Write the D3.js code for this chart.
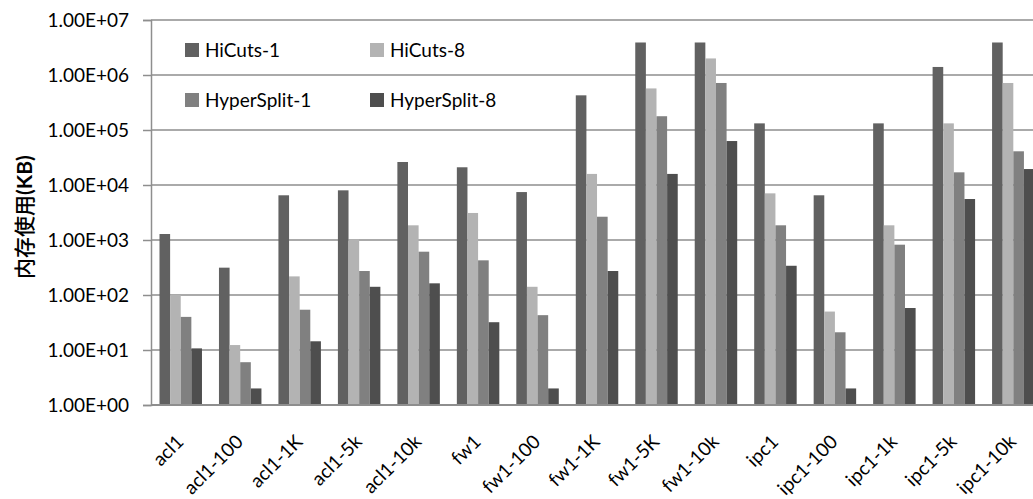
<!DOCTYPE html>
<html>
<head>
<meta charset="utf-8">
<script src="https://cdn.jsdelivr.net/npm/d3@7"></script>
<style>
  html, body { margin: 0; padding: 0; background: #fff; }
  svg { display: block; }
  text { font-family: Lato, "Open Sans", sans-serif; fill: #000; }
</style>
</head>
<body>
<svg id="chart" width="1033" height="499"></svg>
<script>
const categories = ["acl1","acl1-100","acl1-1K","acl1-5k","acl1-10k","fw1","fw1-100","fw1-1K","fw1-5K","fw1-10k","ipc1","ipc1-100","ipc1-1k","ipc1-5k","ipc1-10k"];
const seriesNames = ["HiCuts-1","HiCuts-8","HyperSplit-1","HyperSplit-8"];
const hicuts1 = [1285, 314, 6500, 8000, 26200, 21000, 7440, 427000, 3900000, 3900000, 132000, 6500, 132000, 1400000, 3900000];
const hicuts8 = [100, 12.3, 218, 1030, 1850, 3100, 141, 15900, 570000, 2000000, 7050, 50, 1850, 132000, 716000];
const hyper1 = [40, 6, 54, 273, 613, 427, 43, 2650, 178000, 716000, 1850, 21, 822, 17000, 41000];
const hyper8 = [10.7, 2, 14.4, 141, 163, 32, 2, 273, 15900, 63000, 340, 2, 58, 5560, 19500];
const tickValues = [1, 10, 100, 1000, 10000, 100000, 1000000, 10000000];
const tickLabels = ["1.00E+00","1.00E+01","1.00E+02","1.00E+03","1.00E+04","1.00E+05","1.00E+06","1.00E+07"];
const colors = ["#616161", "#b3b3b3", "#808080", "#4e4e4e"];

const seriesValues = [hicuts1, hicuts8, hyper1, hyper8];

const svg = d3.select("#chart");
const plotLeft = 151, plotTop = 20, plotBottom = 405;
const step = 59.47;
const plotRight = plotLeft + step * categories.length;

const x = d3.scaleBand().domain(categories).range([plotLeft, plotRight]).paddingInner(1.6/5.6).paddingOuter(0.8/5.6);
const xs = d3.scaleBand().domain(seriesNames).range([0, x.bandwidth()]);
const y = d3.scaleLog().domain([1, 1e7]).range([plotBottom, plotTop]);

// gridlines
svg.append("g").selectAll("line").data(tickValues.slice(1)).join("line")
  .attr("x1", plotLeft).attr("x2", 1033)
  .attr("y1", d => y(d)).attr("y2", d => y(d))
  .attr("stroke", "#8e8e8e").attr("stroke-width", 1.5);

// y axis
const yAxis = d3.axisLeft(y).tickValues(tickValues)
  .tickFormat((d, i) => tickLabels[i]).tickSize(8).tickPadding(14);
const yg = svg.append("g").attr("transform", `translate(${plotLeft},0)`).call(yAxis);
yg.select(".domain").attr("stroke", "#8e8e8e").attr("stroke-width", 1.5);
yg.selectAll(".tick line").attr("stroke", "#8e8e8e").attr("stroke-width", 1.5);
yg.selectAll(".tick text").attr("font-family", "Lato, sans-serif").attr("font-size", 19).attr("fill", "#000");

// bars
const groups = svg.append("g").selectAll("g").data(categories).join("g")
  .attr("transform", d => `translate(${x(d)},0)`);
groups.selectAll("rect").data((c, ci) => seriesNames.map((s, si) => ({s, si, v: seriesValues[si][ci]})))
  .join("rect")
  .attr("x", d => xs(d.s))
  .attr("width", xs.bandwidth())
  .attr("y", d => y(d.v))
  .attr("height", d => y(1) - y(d.v))
  .attr("fill", d => colors[d.si]);

// x axis line
svg.append("line").attr("x1", plotLeft).attr("x2", 1033).attr("y1", plotBottom).attr("y2", plotBottom)
  .attr("stroke", "#8e8e8e").attr("stroke-width", 2);

// x labels (rotated)
svg.append("g").selectAll("text").data(categories).join("text")
  .attr("text-anchor", "end")
  .attr("font-size", 19)
  .attr("transform", d => `translate(${x(d) + x.bandwidth() / 2 + 4},${plotBottom + 38}) rotate(-45)`)
  .text(d => d);

// legend
const legendPos = [[185, 43], [370, 43], [185, 93], [370, 93]];
const lg = svg.append("g").selectAll("g").data(seriesNames).join("g")
  .attr("transform", (d, i) => `translate(${legendPos[i][0]},${legendPos[i][1]})`);
lg.append("rect").attr("width", 14).attr("height", 14).attr("fill", (d, i) => colors[i]);
lg.append("text").attr("x", 20).attr("y", 14).attr("font-size", 19).text(d => d);

// y title
const yt = svg.append("text")
  .attr("transform", "translate(32,217) rotate(-90)")
  .attr("text-anchor", "middle")
  .attr("font-size", 21);
yt.append("tspan").attr("font-family", "'Noto Sans CJK SC', sans-serif").attr("font-weight", 500).text("内存使用");
yt.append("tspan").attr("font-family", "Lato, sans-serif").attr("font-weight", "bold").text("(KB)");
</script>
</body>
</html>
